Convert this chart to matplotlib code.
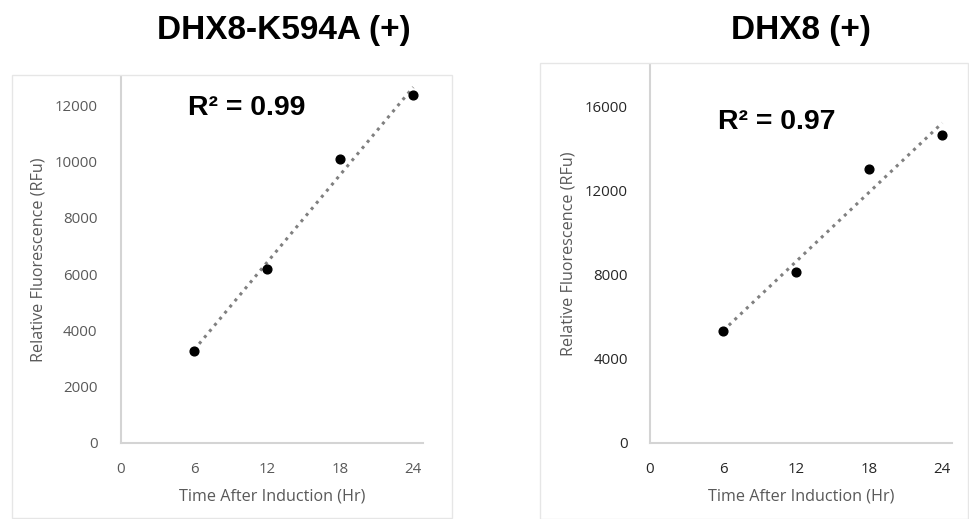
import numpy as np
import matplotlib
matplotlib.use("Agg")
import matplotlib.pyplot as plt
from matplotlib.patches import Rectangle

# ---- data ----
time_hr = [6, 12, 18, 24]
mutant_rfu = [3280, 6180, 10080, 12350]
wt_rfu = [5330, 8120, 13035, 14685]
titles = ["DHX8-K594A (+)", "DHX8 (+)"]
r2_labels = ["R² = 0.99", "R² = 0.97"]
x_ticks = [0, 6, 12, 18, 24]
left_yticks = [0, 2000, 4000, 6000, 8000, 10000, 12000]
right_yticks = [0, 4000, 8000, 12000, 16000]
xlabel = "Time After Induction (Hr)"
ylabel = "Relative Fluorescence (RFu)"

fig = plt.figure(figsize=(9.69, 5.19), dpi=100)
fig.patch.set_facecolor("white")

# chart area frames
fig.add_artist(Rectangle((12/969, 1/519), 440/969, 443/519, transform=fig.transFigure,
                         fill=False, edgecolor="#e6e6e6", linewidth=1))
fig.add_artist(Rectangle((540/969, 0/519), 428/969, 456/519, transform=fig.transFigure,
                         fill=False, edgecolor="#e6e6e6", linewidth=1))

axL = fig.add_axes([121/969, 1-443/519, 302/969, 366/519])
axR = fig.add_axes([650/969, 1-443/519, 302/969, 378/519])

tick_font = "Open Sans"

def style(ax, yticks, ylim, tickcolor, ypad):
    ax.set_xlim(0, 24.8)
    ax.set_ylim(*ylim)
    ax.set_xticks(x_ticks)
    ax.set_yticks(yticks)
    for s in ["top", "right"]:
        ax.spines[s].set_visible(False)
    for s in ["left", "bottom"]:
        ax.spines[s].set_color("#d4d4d4")
        ax.spines[s].set_linewidth(1.5)
    ax.tick_params(length=0, labelsize=10.8, colors=tickcolor)
    ax.tick_params(axis="y", pad=ypad)
    ax.tick_params(axis="x", pad=14)
    for lab in ax.get_xticklabels() + ax.get_yticklabels():
        lab.set_fontfamily(tick_font)
    ax.set_xlabel(xlabel, fontsize=11.6, color="#595959", fontfamily=tick_font, labelpad=8)
    ax.set_ylabel(ylabel, fontsize=11.6, color="#595959", fontfamily=tick_font, labelpad=6)

def draw(ax, y):
    x = np.array(time_hr, dtype=float)
    yv = np.array(y, dtype=float)
    m, b = np.polyfit(x, yv, 1)
    ax.plot(x[[0, -1]], m * x[[0, -1]] + b, linestyle=(0, (1, 1.6)), color="#808080",
            linewidth=2.2, zorder=2)
    ax.plot(x, yv, "o", color="black", markersize=6.3, zorder=3)

style(axL, left_yticks, (0, 13000), "#595959", 17)
style(axR, right_yticks, (0, 18000), "#262626", 16)
draw(axL, mutant_rfu)
draw(axR, wt_rfu)

fig.text(284/969, 1-30/519, titles[0], ha="center", va="center", fontsize=24,
         fontweight="bold", fontfamily="Liberation Sans")
fig.text(801/969, 1-30/519, titles[1], ha="center", va="center", fontsize=24,
         fontweight="bold", fontfamily="Liberation Sans")
fig.text(247/969, 1-108/519, r2_labels[0], ha="center", va="center", fontsize=20.5,
         fontweight="bold", fontfamily="Liberation Sans")
fig.text(777/969, 1-122/519, r2_labels[1], ha="center", va="center", fontsize=20.5,
         fontweight="bold", fontfamily="Liberation Sans")

fig.savefig("out.png", dpi=100, facecolor="white")
